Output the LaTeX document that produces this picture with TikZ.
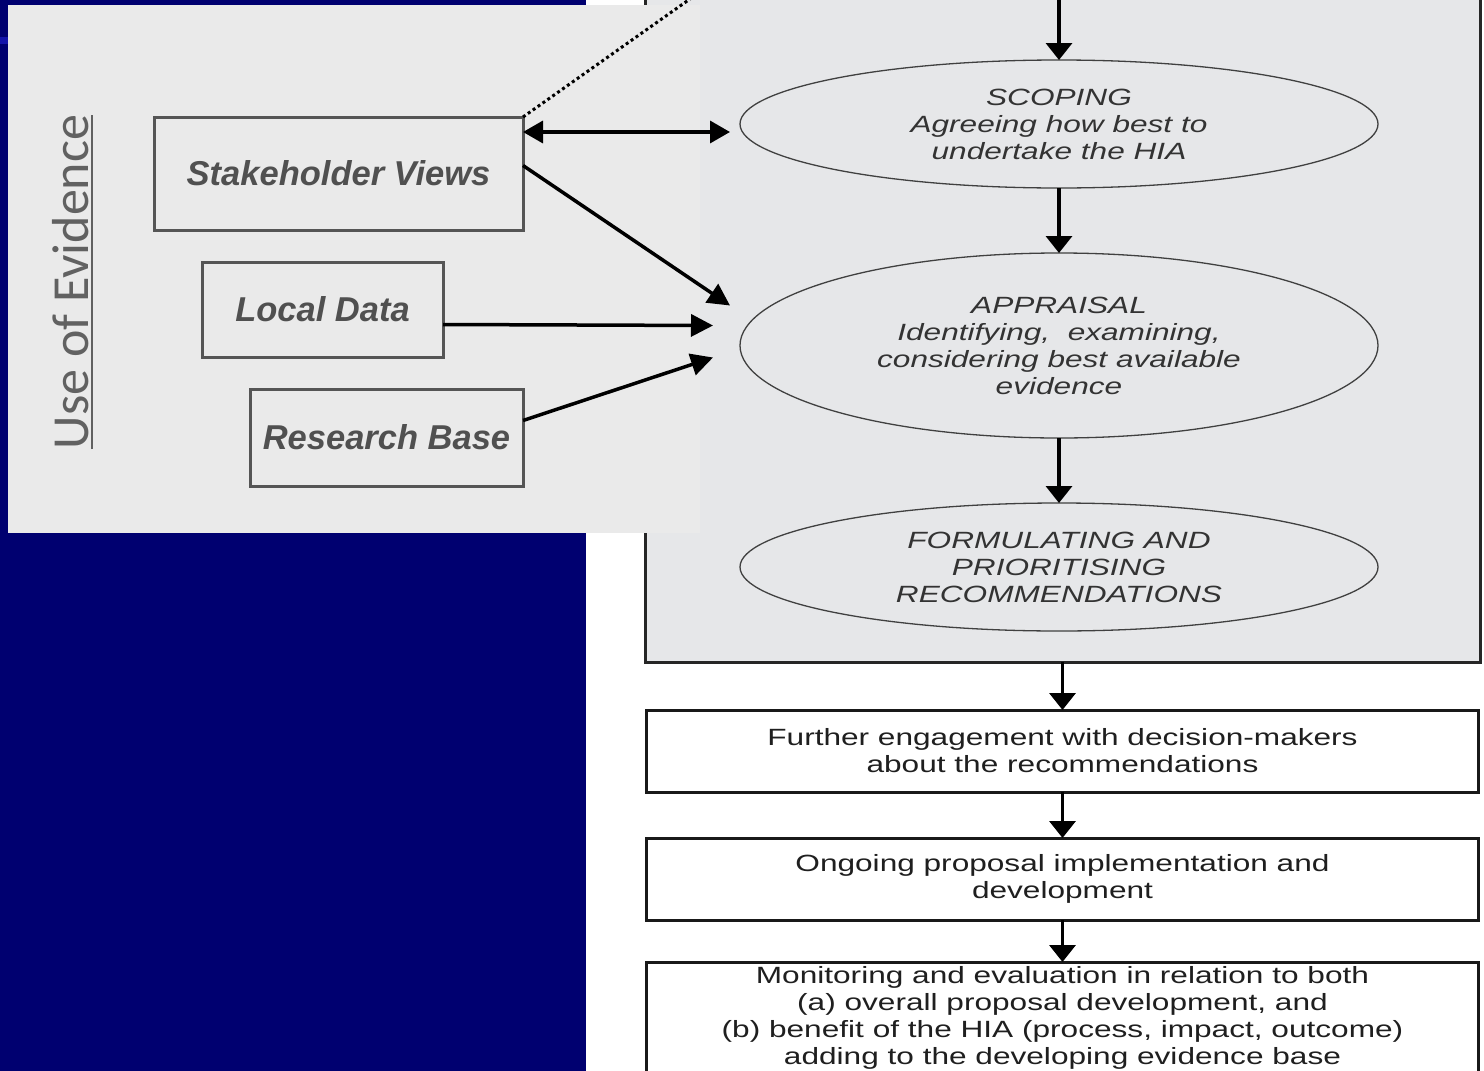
\documentclass[tikz,border=0pt]{standalone}
\usepackage{fontspec}
\setmainfont{Liberation Sans}
\newfontfamily\chartfont[FakeStretch=1.345]{Liberation Sans}
\newfontfamily\slidefont{Carlito}
\usepackage{tikz}
\usetikzlibrary{shapes.geometric, arrows.meta, positioning, calc}
\definecolor{slidenavy}{RGB}{0,0,112}
\definecolor{slidestripe}{RGB}{20,20,170}
\definecolor{panelgrey}{RGB}{234,234,234}
\definecolor{framegrey}{RGB}{230,231,233}
\definecolor{boxline}{RGB}{85,85,85}
\definecolor{inktext}{RGB}{80,80,80}
\newcommand{\headingrule}[1]{\setbox0=\hbox{#1}\leavevmode\vtop{\copy0\kern2.5pt\hrule height 2pt width \wd0}}

\begin{document}
\begin{tikzpicture}[
  x=1pt, y=-1pt,
  node distance=65pt,
  stage/.style={ellipse, draw=black!75, line width=1.3pt, fill=framegrey,
    minimum width=638pt, minimum height=128pt, inner sep=0pt, outer sep=0pt,
    align=center, text=black!80, font=\chartfont\itshape\fontsize{23.5}{27}\selectfont},
  outcome/.style={rectangle, draw=black!90, line width=3pt, fill=white,
    minimum width=832pt, minimum height=82pt, inner sep=4pt, outer sep=0pt,
    align=center, text=black!88, font=\chartfont\fontsize{23.5}{27}\selectfont},
  source/.style={rectangle, draw=boxline, line width=3pt, inner sep=0pt,
    outer sep=0pt, text=inktext, font=\bfseries\itshape\fontsize{34.5}{40}\selectfont},
  flow/.style={-{Triangle[length=17pt,width=26pt]}, line width=3.5pt},
  feed/.style={-{Triangle[length=22pt,width=22pt]}, line width=3.5pt},
  feedboth/.style={{Triangle[length=20pt,width=22pt]}-{Triangle[length=20pt,width=22pt]}, line width=3.5pt},
  dotline/.style={line width=3pt, dash pattern=on 3pt off 3pt}
]
  \useasboundingbox (0,0) rectangle (1484,1071);
  \fill[slidenavy] (0,0) rectangle (586,1071);
  \fill[slidestripe] (0,37) rectangle (8,44);

  %% HIA process chart
  \node[draw=black!85, line width=3pt, fill=framegrey, minimum width=835pt,
    minimum height=700pt, anchor=south west, inner sep=0pt, outer sep=0pt] (frame) at (645,662) {};

  \node[stage] (scoping) at (1059,124) {SCOPING\\Agreeing how best to\\undertake the HIA};
  \node[stage, below=of scoping, minimum height=185pt] (appraisal)
    {APPRAISAL\\Identifying,~ examining,\\considering best available\\evidence};
  \node[stage, below=of appraisal] (formulating)
    {FORMULATING AND\\PRIORITISING\\RECOMMENDATIONS};

  \node[outcome, below=48pt of frame] (engage)
    {Further engagement with decision-makers\\about the recommendations};
  \node[outcome, below=46pt of engage] (implement)
    {Ongoing proposal implementation and\\development};
  \node[outcome, below=42pt of implement, minimum height=112pt] (monitor)
    {Monitoring and evaluation in relation to both\\(a) overall proposal development, and\\(b) benefit of the HIA (process, impact, outcome)\\adding to the developing evidence base};

  \coordinate (entry) at (1059,-10);
  \draw[flow] (entry) -- (scoping);
  \draw[flow] (scoping) -- (appraisal);
  \draw[flow] (appraisal) -- (formulating);
  \draw[flow] (frame) -- (engage);
  \draw[flow] (engage) -- (implement);
  \draw[flow] (implement) -- (monitor);

  %% evidence overlay
  \fill[panelgrey] (8,5) rectangle (700,533);

  \node[rotate=90, anchor=base, text=inktext!90, inner sep=0pt,
    font=\slidefont\fontsize{52}{60}\selectfont] (evidence) at (88,282) {\headingrule{Use of Evidence}};

  \node[source, minimum width=369pt, minimum height=113pt] (stake) at (338.5,173.5) {Stakeholder Views};
  \node[source, minimum width=241pt, minimum height=95pt] (local) at (322.5,309.5) {Local Data};
  \node[source, minimum width=273pt, minimum height=97pt] (research) at (386.5,437.5) {Research Base};

  \coordinate (scopein) at ($(scoping.west)+(-10,8)$);
  \coordinate (apprin1) at ($(appraisal.west)+(-10,-40)$);
  \coordinate (apprin2) at ($(appraisal.west)+(-27,-20)$);
  \coordinate (apprin3) at ($(appraisal.west)+(-27,12)$);
  \coordinate (dotend) at (697,-6);

  \draw[feedboth] ($(stake.north east)+(0,15)$) -- (scopein);
  \draw[feed] ($(stake.east)+(0,-8)$) -- (apprin1);
  \draw[feed] ($(local.east)+(0,15)$) -- (apprin2);
  \draw[feed] ($(research.east)+(0,-17)$) -- (apprin3);
  \draw[dotline] (stake.north east) -- (dotend);
\end{tikzpicture}
\end{document}
